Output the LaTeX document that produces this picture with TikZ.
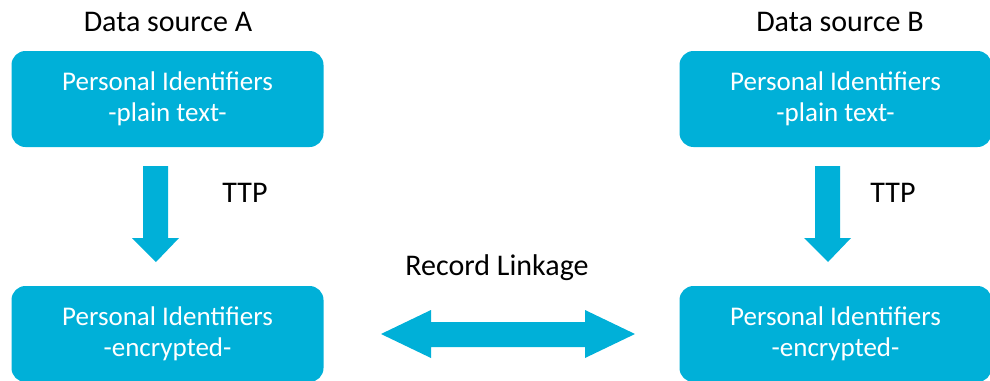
\documentclass[tikz,border=0pt]{standalone}
\usepackage{fontspec}
\setmainfont{Carlito}
\definecolor{boxblue}{RGB}{0,176,216}
\begin{document}
\begin{tikzpicture}[x=1pt,y=-1pt,
  pibox/.style={fill=boxblue,rounded corners=14pt,text=white,font=\fontsize{27}{31}\selectfont,align=center,minimum width=312pt,minimum height=96pt,inner sep=0pt},
  lbl/.style={font=\fontsize{30}{34}\selectfont,text=black},
  fat/.style={fill=boxblue}]
\useasboundingbox (0,0) rectangle (990,380);
\node[lbl] (dsa) at (168,22) {Data source A};
\node[lbl] (dsb) at (840,22) {Data source B};
\node[pibox] (pa) at (167.5,99) {Personal Identifiers\\-plain text-};
\node[pibox] (pb) at (835.5,99) {Personal Identifiers\\-plain text-};
\node[pibox] (ea) at (167.5,334) {Personal Identifiers\\-encrypted-};
\node[pibox] (eb) at (835.5,334) {Personal Identifiers\\-encrypted-};
\node[lbl] (ttpa) at (245,193) {TTP};
\node[lbl] (ttpb) at (893,193) {TTP};
\node[lbl] (rl) at (497,268) {Record Linkage};
% down arrows
\fill[fat] (143,166) -- (168,166) -- (168,238) -- (179,238) -- (156,262) -- (132,238) -- (143,238) -- cycle;
\fill[fat] (815,166) -- (840,166) -- (840,238) -- (851,238) -- (828,262) -- (804,238) -- (815,238) -- cycle;
% double arrow
\fill[fat] (381,334) -- (431,310) -- (431,322) -- (585,322) -- (585,310) -- (635,334) -- (585,358) -- (585,347) -- (431,347) -- (431,358) -- cycle;
\end{tikzpicture}
\end{document}
